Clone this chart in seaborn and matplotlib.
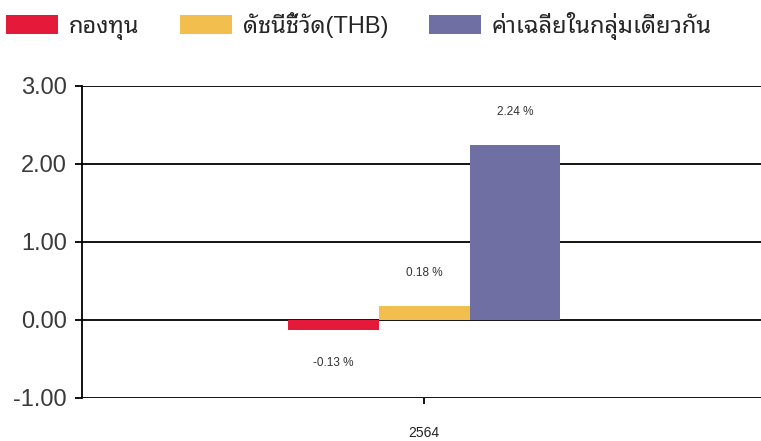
import matplotlib
matplotlib.use("Agg")
import matplotlib.pyplot as plt
import matplotlib.patches as mpatches
import seaborn as sns
import pandas as pd

# ---- data ----
categories = ["2564"]
series = ["กองทุน", "ดัชนีชี้วัด(THB)", "ค่าเฉลี่ยในกลุ่มเดียวกัน"]
values = [-0.13, 0.18, 2.24]
colors = ["#E5193A", "#F2BE4E", "#6F6FA3"]
yticks = [-1.00, 0.00, 1.00, 2.00, 3.00]

df = pd.DataFrame({"year": categories * len(series), "series": series, "value": values})

sns.set_theme(style="white")
FAM = ["Liberation Sans", "Noto Sans Thai Looped", "Noto Sans Thai", "DejaVu Sans"]
plt.rcParams["font.family"] = FAM

fig = plt.figure(figsize=(7.61, 4.41), dpi=100)
ax = fig.add_axes([82 / 761, 1 - 398 / 441, 1 - 82 / 761, (398 - 86) / 441])

sns.barplot(data=df, x="year", y="value", hue="series", hue_order=series,
            palette=colors, saturation=1, width=0.8, legend=False, ax=ax,
            edgecolor="none", linewidth=0)

ax.set_ylim(-1, 3)
ax.set_xlim(-1.003, 0.988)
ax.set_yticks(yticks)
ax.set_yticklabels([f"{t:.2f}" for t in yticks], fontsize=17, color="#3a3a3a")
ax.set_xticks([0])
ax.set_xticklabels(categories, fontsize=10, color="#222222")
ax.set_xlabel("")
ax.set_ylabel("")

for t in yticks:
    ax.axhline(t, color="black", linewidth=1.3, zorder=0.5)

for s in ["top", "right", "bottom"]:
    ax.spines[s].set_visible(False)
ax.spines["left"].set_color("black")
ax.spines["left"].set_linewidth(1.3)
ax.tick_params(axis="y", which="both", left=True, length=5, width=1.3, color="black", pad=6)
ax.tick_params(axis="x", which="both", bottom=True, length=4, width=1.3, color="black", pad=16)

# value labels
for patch, v in zip(ax.patches, values):
    cx = patch.get_x() + patch.get_width() / 2
    off = 24 if v >= 0 else -24
    ax.annotate(f"{v:.2f} %", (cx, v), xytext=(0, off), textcoords="offset points",
                ha="center", va="center", fontsize=8.5, color="#333333")

handles = [mpatches.Patch(facecolor=c, edgecolor="none", label=s) for c, s in zip(colors, series)]
fig.legend(handles=handles, loc="upper left", bbox_to_anchor=(-0.008, 1.0), ncol=3,
           frameon=False, handlelength=2.2, handleheight=0.9,
           handletextpad=0.45, columnspacing=1.75, borderaxespad=0.1,
           prop={"family": FAM, "size": 17})

fig.savefig("out.png", dpi=100)
